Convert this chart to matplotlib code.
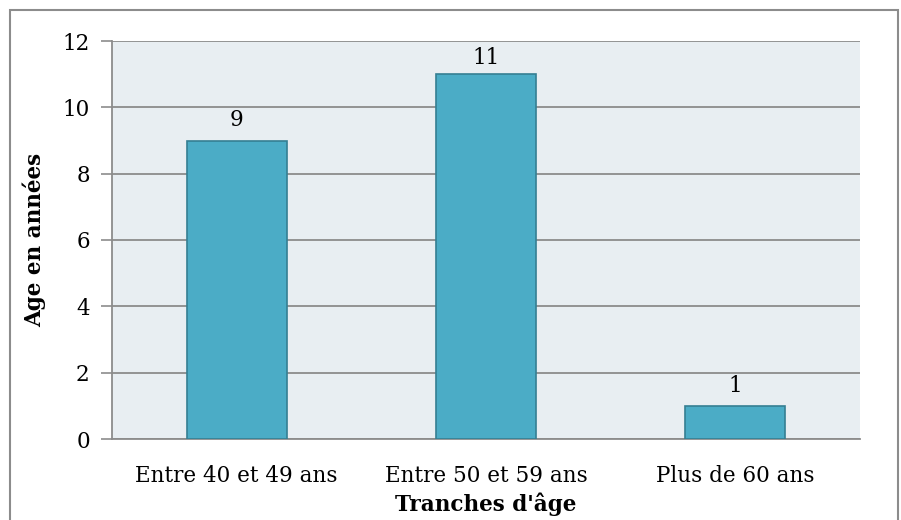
import matplotlib
matplotlib.use("Agg")
import matplotlib.pyplot as plt
from matplotlib.patches import Rectangle

categories = ["Entre 40 et 49 ans", "Entre 50 et 59 ans", "Plus de 60 ans"]
values = [9, 11, 1]
y_ticks = [0, 2, 4, 6, 8, 10, 12]

BAR_COLOR = "#4BACC6"
EDGE_COLOR = "#357F93"
PANEL_COLOR = "#E8EEF2"
GRID_COLOR = "#8C8C8C"

plt.rcParams["font.family"] = ["DejaVu Serif"]

fig = plt.figure(figsize=(9.01, 5.2), dpi=100, facecolor="white")
ax = fig.add_axes([112 / 901, 1 - 439 / 520, (860 - 112) / 901, (439 - 41) / 520])
ax.set_facecolor(PANEL_COLOR)

x = list(range(len(categories)))
ax.bar(x, values, width=0.4, color=BAR_COLOR, edgecolor=EDGE_COLOR,
       linewidth=1.2, zorder=3)
for xi, v in zip(x, values):
    # label sits just above the bar, kept inside the plot area
    ax.text(xi, min(v + 0.28, 11.15), str(v), ha="center", va="bottom",
            fontsize=15.5, zorder=4)

ax.set_xlim(-0.5, 2.5)
ax.set_ylim(0, 12)
ax.set_yticks(y_ticks)
ax.set_xticks(x)
ax.set_xticklabels(categories, fontsize=15.5)
ax.tick_params(axis="y", labelsize=15.5, length=8, width=1.2, color=GRID_COLOR, pad=8)
ax.tick_params(axis="x", length=0, pad=19)
ax.grid(axis="y", color=GRID_COLOR, linewidth=1.3, zorder=1)

for name, spine in ax.spines.items():
    spine.set_visible(name in ("left", "bottom"))
    spine.set_color(GRID_COLOR)
    spine.set_linewidth(1.3)

ax.set_ylabel("Age en années", fontsize=15.5, fontweight="bold", labelpad=12)
ax.set_xlabel("Tranches d'âge", fontsize=15.5, fontweight="bold", labelpad=4)

# outer chart border
fig.patches.append(Rectangle((10 / 901, -0.05), 888 / 901, 1 - 10 / 520 + 0.05,
                             transform=fig.transFigure, fill=False,
                             edgecolor="#8C8C8C", linewidth=1.5))

fig.savefig("out.png", dpi=100, facecolor="white")
